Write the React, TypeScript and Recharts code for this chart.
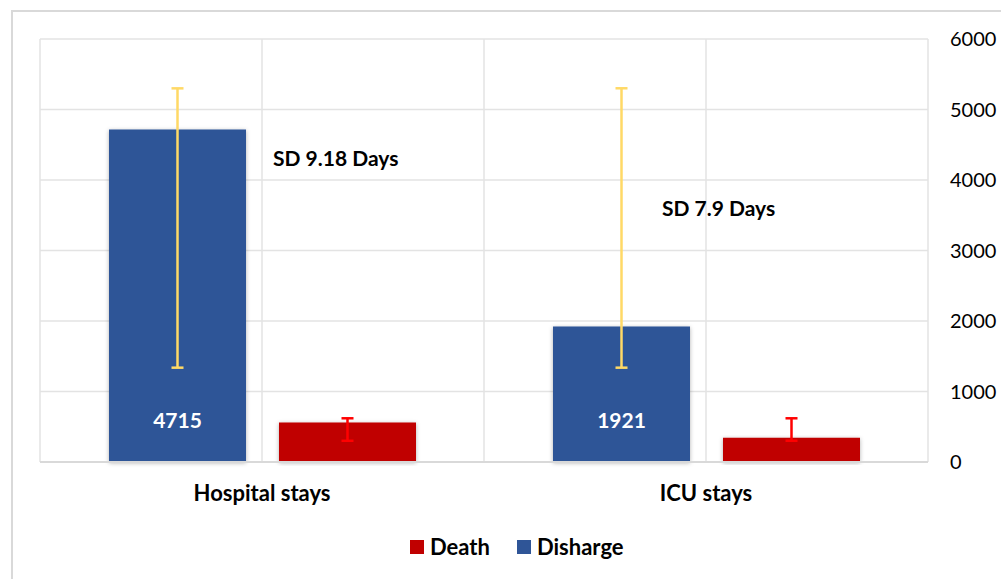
import React from 'react';
import { BarChart, Bar, XAxis, YAxis, CartesianGrid, ErrorBar, LabelList, Customized } from 'recharts';

const categories = ['Hospital stays', 'ICU stays'];
const dischargeValues = [4715, 1921];
const deathValues = [562, 345];
// asymmetric error extents: [below, above]
const dischargeErrors: [number, number][] = [[3377, 585], [583, 3380]];
const deathErrors: [number, number][] = [[261, 58], [43, 275]];
const yTicks = [0, 1000, 2000, 3000, 4000, 5000, 6000];
const sdNotes = ['SD 9.18 Days', 'SD 7.9 Days'];

const seriesList = [
  { key: 'death', name: 'Death', color: '#C00000' },
  { key: 'discharge', name: 'Disharge', color: '#2F5597' },
];

const data = categories.map((c, i) => ({
  category: c,
  discharge: dischargeValues[i],
  death: deathValues[i],
  dischargeErr: dischargeErrors[i],
  deathErr: deathErrors[i],
}));

const FONT = 'Lato, "Open Sans", sans-serif';

const InsideBaseLabel = (props: any) => {
  const { x, y, width, height, value } = props;
  return (
    <text
      x={x + width / 2}
      y={y + height - 43}
      fill="#ffffff"
      fontFamily={FONT}
      fontWeight={700}
      fontSize={21}
      textAnchor="middle"
      dominantBaseline="central"
    >
      {value}
    </text>
  );
};

const SdNotes = (props: any) => {
  return (
    <g>
      <text x={273} y={166} fontFamily={FONT} fontWeight={700} fontSize={21} fill="#000">
        {sdNotes[0]}
      </text>
      <text x={662} y={216} fontFamily={FONT} fontWeight={700} fontSize={21} fill="#000">
        {sdNotes[1]}
      </text>
    </g>
  );
};

export default function App() {
  return (
    <div style={{ position: 'fixed', left: 0, top: 0, width: 1001, height: 579, overflow: 'hidden', background: '#fff' }}>
      <svg width={0} height={0} style={{ position: 'absolute' }}>
        <defs>
          <filter id="barShadow" x="-10%" y="-10%" width="120%" height="120%">
            <feDropShadow dx="0" dy="1" stdDeviation="2" floodColor="#000" floodOpacity="0.3" />
          </filter>
        </defs>
      </svg>
      <div
        style={{
          position: 'absolute',
          left: 11,
          top: 10,
          width: 1200,
          height: 800,
          border: '2px solid #d9d9d9',
          boxSizing: 'border-box',
        }}
      />
      <div style={{ position: 'absolute', left: 0, top: 0 }}>
        <BarChart
          width={1001}
          height={579}
          data={data}
          margin={{ top: 39, left: 40, right: 0, bottom: 0 }}
          barSize={137}
          barGap={33}
        >
          <CartesianGrid
            stroke="#e3e3e3"
            strokeWidth={1.5}
            verticalCoordinatesGenerator={({ offset }: any) =>
              [0, 1, 2, 3, 4].map((i) => offset.left + (offset.width * i) / 4)
            }
          />
          <XAxis
            dataKey="category"
            height={117}
            tickLine={false}
            tickSize={0}
            tickMargin={23}
            axisLine={{ stroke: '#d9d9d9', strokeWidth: 2 }}
            tick={{ fontFamily: FONT, fontWeight: 700, fontSize: 22, fill: '#000' }}
          />
          <YAxis
            orientation="right"
            width={73}
            domain={[0, 6000]}
            ticks={yTicks}
            axisLine={false}
            tickLine={false}
            tickSize={0}
            tickMargin={22}
            tick={{ fontFamily: FONT, fontSize: 20, fill: '#000' }}
          />
          <Bar dataKey="discharge" name="Disharge" fill="#2F5597" isAnimationActive={false} style={{ filter: 'url(#barShadow)' }}>
            <ErrorBar dataKey="dischargeErr" direction="y" width={6} stroke="#FFD966" strokeWidth={2.5} />
            <LabelList dataKey="discharge" content={InsideBaseLabel} />
          </Bar>
          <Bar dataKey="death" name="Death" fill="#C00000" isAnimationActive={false} style={{ filter: 'url(#barShadow)' }}>
            <ErrorBar dataKey="deathErr" direction="y" width={6} stroke="#FF0000" strokeWidth={2.5} />
          </Bar>
          <Customized component={SdNotes} />
        </BarChart>
      </div>
      <div
        style={{
          position: 'absolute',
          left: 410,
          top: 537,
          height: 20,
          display: 'flex',
          alignItems: 'center',
          fontFamily: FONT,
          fontWeight: 700,
          fontSize: 22,
          color: '#000',
        }}
      >
        {seriesList.map((s, i) => (
          <div key={s.key} style={{ display: 'flex', alignItems: 'center', marginRight: i < seriesList.length - 1 ? 27 : 0 }}>
            <span style={{ display: 'inline-block', width: 14, height: 14, background: s.color, marginRight: 6 }} />
            <span style={{ lineHeight: '20px' }}>{s.name}</span>
          </div>
        ))}
      </div>
    </div>
  );
}
